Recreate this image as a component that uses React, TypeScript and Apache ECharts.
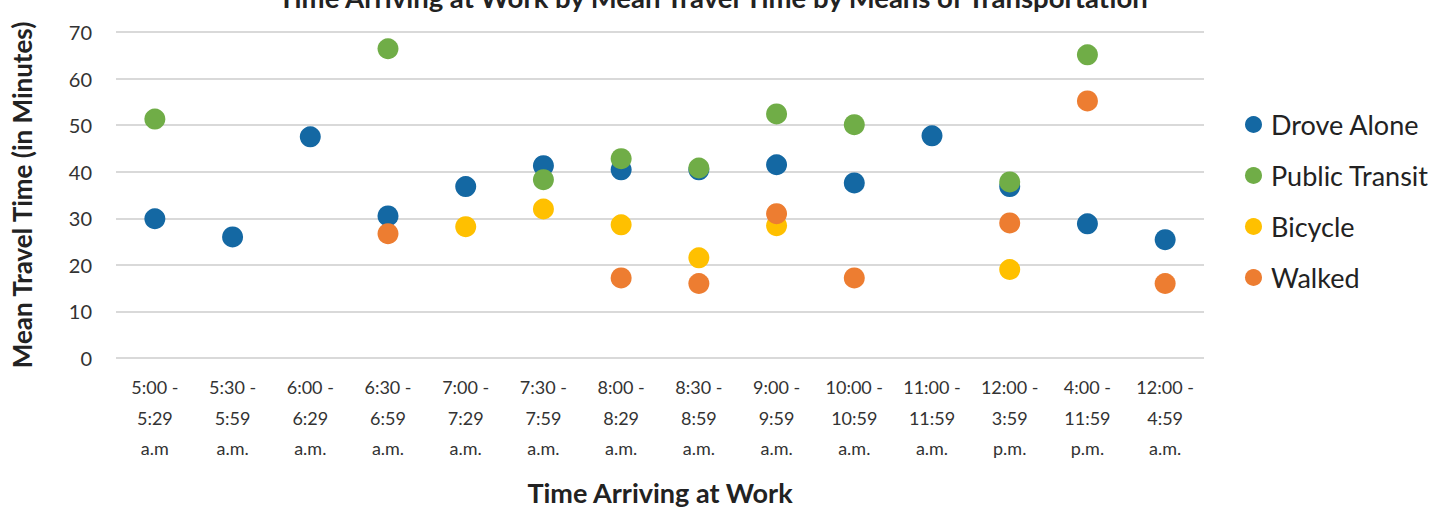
import React, { useEffect, useRef } from "react";
import * as echarts from "echarts";

const categories = [
  "5:00 -\n5:29\na.m",
  "5:30 -\n5:59\na.m.",
  "6:00 -\n6:29\na.m.",
  "6:30 -\n6:59\na.m.",
  "7:00 -\n7:29\na.m.",
  "7:30 -\n7:59\na.m.",
  "8:00 -\n8:29\na.m.",
  "8:30 -\n8:59\na.m.",
  "9:00 -\n9:59\na.m.",
  "10:00 -\n10:59\na.m.",
  "11:00 -\n11:59\na.m.",
  "12:00 -\n3:59\np.m.",
  "4:00 -\n11:59\np.m.",
  "12:00 -\n4:59\na.m.",
];

const droveAlone = [29.9, 26.0, 47.5, 30.5, 36.8, 41.3, 40.4, 40.4, 41.5, 37.6, 47.7, 36.8, 28.8, 25.4];
const publicTransit = [51.3, null, null, 66.4, null, 38.3, 42.8, 40.8, 52.4, 50.1, null, 37.8, 65.1, null];
const bicycle = [null, null, null, null, 28.2, 32.0, 28.6, 21.5, 28.4, null, null, 19.0, null, null];
const walked = [null, null, null, 26.7, null, null, 17.2, 16.0, 31.0, 17.2, null, 29.0, 55.2, 16.0];

const yTicks = [0, 10, 20, 30, 40, 50, 60, 70];

const FONT = "Lato, 'Noto Sans', sans-serif";

export default function App() {
  const ref = useRef<HTMLDivElement>(null);
  useEffect(() => {
    if (!ref.current) return;
    const chart = echarts.init(ref.current, undefined, { renderer: "svg" });
    const mk = (name: string, data: (number | null)[], color: string) => ({
      name,
      type: "scatter",
      data: data.map((v) => (v == null ? "-" : v)),
      symbol: "circle",
      symbolSize: 21,
      itemStyle: { color, opacity: 1 },
      emphasis: { disabled: true },
    });
    chart.setOption({
      animation: false,
      textStyle: { fontFamily: FONT },
      title: {
        text: "Time Arriving at Work by Mean Travel Time by Means of Transportation",
        left: 708,
        textAlign: "center",
        top: -22,
        textStyle: { fontSize: 27.5, fontWeight: "bold", color: "#222", fontFamily: FONT },
      },
      grid: { left: 116, right: 248, top: 32, height: 326, containLabel: false, outerBoundsMode: "none" },
      legend: {
        orient: "vertical",
        left: 1240,
        top: 106,
        itemWidth: 17,
        itemHeight: 17,
        itemGap: 24,
        icon: "circle",
        data: ["Drove Alone", "Public Transit", "Bicycle", "Walked"],
        textStyle: { fontSize: 27, color: "#222", fontFamily: FONT, padding: [0, 0, 0, 4] },
      },
      xAxis: {
        type: "category",
        data: categories,
        boundaryGap: true,
        name: "Time Arriving at Work",
        nameLocation: "middle",
        nameGap: 121,
        nameMoveOverlap: false,
        nameTextStyle: { fontSize: 27, fontWeight: "bold", color: "#222", fontFamily: FONT },
        axisLine: { show: false },
        axisTick: { show: false },
        axisLabel: {
          interval: 0,
          fontSize: 18,
          lineHeight: 30.5,
          color: "#333",
          margin: 14,
          fontFamily: FONT,
        },
      },
      yAxis: {
        type: "value",
        min: yTicks[0],
        max: yTicks[yTicks.length - 1],
        interval: 10,
        name: "Mean Travel Time (in Minutes)",
        nameLocation: "middle",
        nameGap: 81,
        nameMoveOverlap: false,
        nameTextStyle: { fontSize: 26, fontWeight: "bold", color: "#222", fontFamily: FONT },
        axisLine: { show: false },
        axisTick: { show: false },
        axisLabel: { fontSize: 20, color: "#333", margin: 24, fontFamily: FONT },
        splitLine: { lineStyle: { color: "#d9d9d9", width: 2 } },
      },
      series: [
        mk("Drove Alone", droveAlone, "#1468a3"),
        mk("Public Transit", publicTransit, "#70ad47"),
        mk("Bicycle", bicycle, "#ffc000"),
        mk("Walked", walked, "#ed7d31"),
      ],
    });
    return () => chart.dispose();
  }, []);
  return (
    <div
      ref={ref}
      style={{ position: "fixed", left: 0, top: 0, width: 1452, height: 508, background: "#fff" }}
    />
  );
}
